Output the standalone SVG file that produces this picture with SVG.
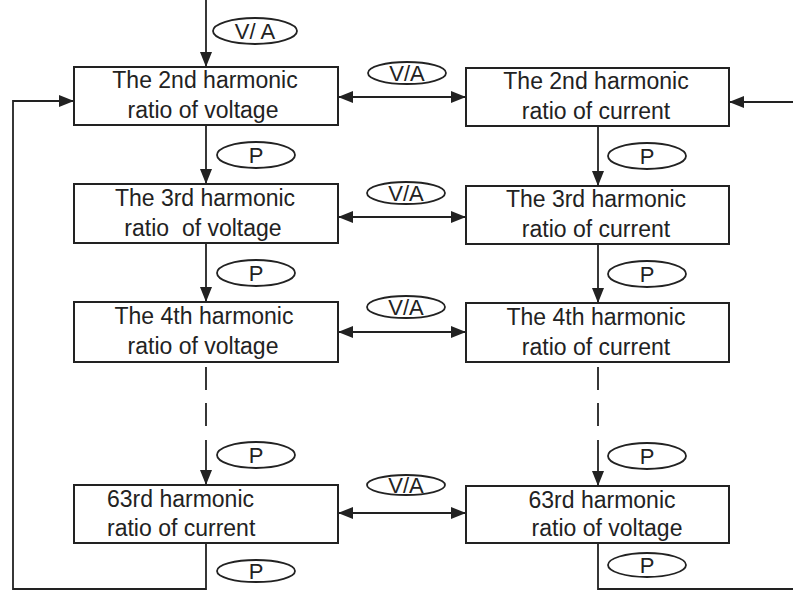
<svg xmlns="http://www.w3.org/2000/svg" width="793" height="591" viewBox="0 0 793 591">
<defs>
<style>
.box{fill:#fff;stroke:#222;stroke-width:2}
.t{font-family:"Liberation Sans",Arial,sans-serif;font-size:23px;fill:#222;text-anchor:middle;white-space:pre}
.ts{font-family:"Liberation Sans",Arial,sans-serif;font-size:23px;fill:#222;white-space:pre}
.el{fill:#fff;stroke:#222;stroke-width:1.8}
.lt{font-family:"Liberation Sans",Arial,sans-serif;font-size:22px;fill:#222;text-anchor:middle}
.ln{fill:none;stroke:#222;stroke-width:1.8}
</style>
<marker id="ah" markerUnits="userSpaceOnUse" markerWidth="16" markerHeight="12" refX="15" refY="6" orient="auto-start-reverse">
<path d="M0,0 L15,6 L0,12 Z" fill="#222"/>
</marker>
</defs>
<rect width="793" height="591" fill="#fff"/>
<g id="connectors">
<line class="ln" x1="206" y1="0" x2="206" y2="67" marker-end="url(#ah)"/>
<line class="ln" x1="206" y1="125" x2="206" y2="184" marker-end="url(#ah)"/>
<line class="ln" x1="206" y1="243" x2="206" y2="302" marker-end="url(#ah)"/>
<line class="ln" x1="206" y1="367" x2="206" y2="437" stroke-dasharray="23 13"/>
<line class="ln" x1="206" y1="440" x2="206" y2="485" marker-end="url(#ah)"/>
<polyline class="ln" points="206,543 206,589 13,589 13,101 74,101" marker-end="url(#ah)"/>
<line class="ln" x1="598" y1="126" x2="598" y2="186" marker-end="url(#ah)"/>
<line class="ln" x1="598" y1="244" x2="598" y2="303" marker-end="url(#ah)"/>
<line class="ln" x1="598" y1="367" x2="598" y2="437" stroke-dasharray="23 13"/>
<line class="ln" x1="598" y1="440" x2="598" y2="486" marker-end="url(#ah)"/>
<polyline class="ln" points="598,543 598,589 800,589 800,102 729,102" marker-end="url(#ah)"/>
<line class="ln" x1="338" y1="97" x2="466" y2="97" marker-start="url(#ah)" marker-end="url(#ah)"/>
<line class="ln" x1="338" y1="217" x2="466" y2="217" marker-start="url(#ah)" marker-end="url(#ah)"/>
<line class="ln" x1="338" y1="332" x2="466" y2="332" marker-start="url(#ah)" marker-end="url(#ah)"/>
<line class="ln" x1="338" y1="513" x2="466" y2="513" marker-start="url(#ah)" marker-end="url(#ah)"/>
</g>
<g id="n-v2"><rect class="box" x="74" y="67" width="264" height="58"/><text class="t" x="205" y="88">The 2nd harmonic</text><text class="t" x="203" y="118">ratio of voltage</text></g>
<g id="n-c2"><rect class="box" x="466" y="68" width="263" height="58"/><text class="t" x="596" y="89">The 2nd harmonic</text><text class="t" x="596" y="119">ratio of current</text></g>
<g id="n-v3"><rect class="box" x="74" y="184" width="264" height="59"/><text class="t" x="205" y="206">The 3rd harmonic</text><text class="t" x="203" y="236">ratio  of voltage</text></g>
<g id="n-c3"><rect class="box" x="466" y="186" width="263" height="58"/><text class="t" x="596" y="207">The 3rd harmonic</text><text class="t" x="596" y="237">ratio of current</text></g>
<g id="n-v4"><rect class="box" x="74" y="302" width="264" height="60"/><text class="t" x="204" y="324">The 4th harmonic</text><text class="t" x="203" y="354">ratio of voltage</text></g>
<g id="n-c4"><rect class="box" x="466" y="303" width="263" height="59"/><text class="t" x="596" y="325">The 4th harmonic</text><text class="t" x="596" y="355">ratio of current</text></g>
<g id="n-c63"><rect class="box" x="74" y="485" width="264" height="58"/><text class="ts" x="107" y="507">63rd harmonic</text><text class="ts" x="107" y="536">ratio of current</text></g>
<g id="n-v63"><rect class="box" x="466" y="486" width="263" height="57"/><text class="t" x="602" y="508">63rd harmonic</text><text class="t" x="607" y="536">ratio of voltage</text></g>
<g id="labels">
<ellipse class="el" cx="255" cy="31" rx="42" ry="13"/><text class="lt" x="255" y="39">V/ A</text>
<ellipse class="el" cx="407" cy="73" rx="39" ry="11"/><text class="lt" x="407" y="81">V/A</text>
<ellipse class="el" cx="406" cy="193" rx="39" ry="11"/><text class="lt" x="406" y="201">V/A</text>
<ellipse class="el" cx="406" cy="307" rx="39" ry="11"/><text class="lt" x="406" y="315">V/A</text>
<ellipse class="el" cx="406" cy="485" rx="39" ry="10"/><text class="lt" x="406" y="493">V/A</text>
<ellipse class="el" cx="256" cy="155" rx="39" ry="13"/><text class="lt" x="256" y="163">P</text>
<ellipse class="el" cx="256" cy="273" rx="39" ry="13"/><text class="lt" x="256" y="281">P</text>
<ellipse class="el" cx="256" cy="455" rx="39" ry="13"/><text class="lt" x="256" y="463">P</text>
<ellipse class="el" cx="256" cy="571" rx="39" ry="11"/><text class="lt" x="256" y="579">P</text>
<ellipse class="el" cx="647" cy="156" rx="39" ry="13"/><text class="lt" x="647" y="164">P</text>
<ellipse class="el" cx="647" cy="274" rx="39" ry="13"/><text class="lt" x="647" y="282">P</text>
<ellipse class="el" cx="647" cy="456" rx="39" ry="13"/><text class="lt" x="647" y="464">P</text>
<ellipse class="el" cx="647" cy="565" rx="39" ry="12"/><text class="lt" x="647" y="573">P</text>
</g>
</svg>
